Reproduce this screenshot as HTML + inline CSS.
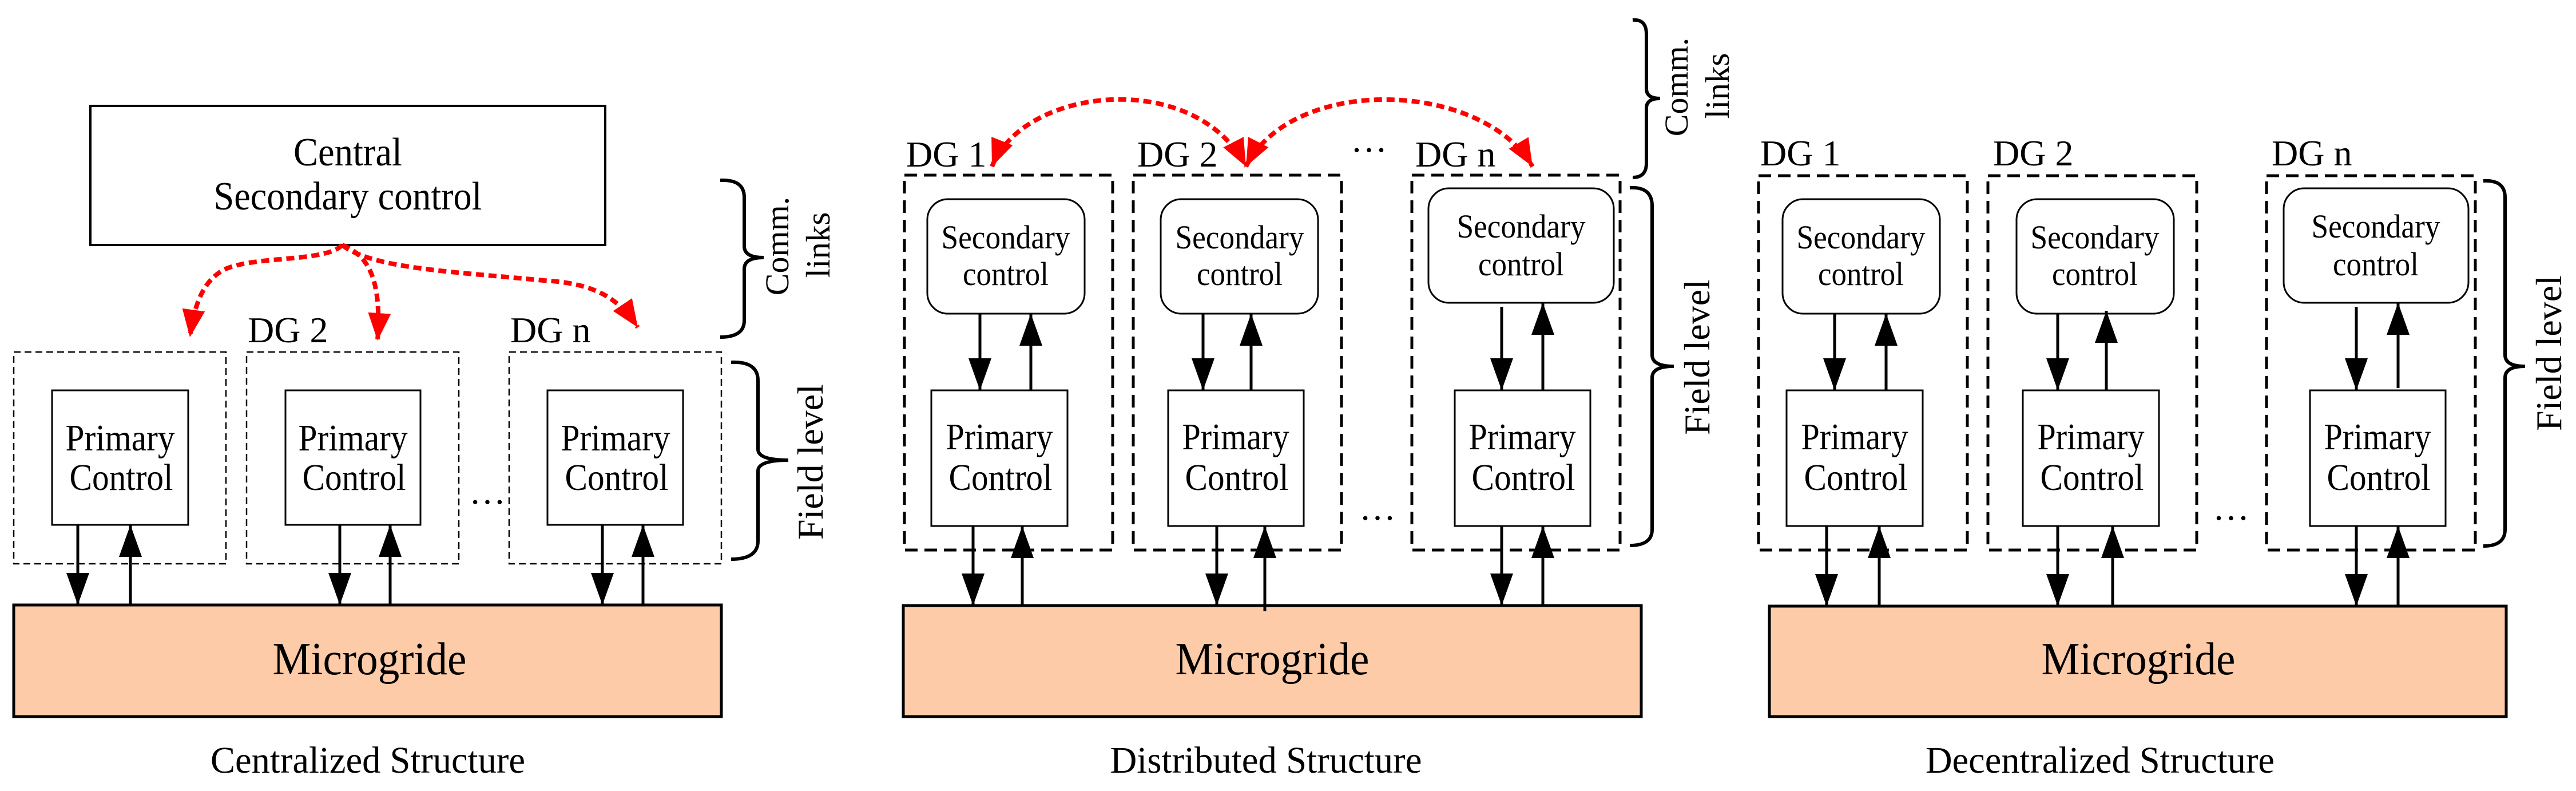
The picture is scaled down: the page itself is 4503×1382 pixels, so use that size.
<!DOCTYPE html>
<html><head><meta charset="utf-8"><style>
html,body{margin:0;padding:0;background:#fff;}
svg{display:block;}
text{font-family:"Liberation Serif",serif;fill:#000;}
</style></head><body>
<svg width="4503" height="1382" viewBox="0 0 4503 1382" xmlns="http://www.w3.org/2000/svg">
<defs>
<marker id="ah" markerUnits="userSpaceOnUse" markerWidth="60" markerHeight="60" viewBox="0 0 60 40" refX="56" refY="20" orient="auto-start-reverse">
<path d="M0 0 L56 20 L0 40 Z" fill="#000"/></marker>
<marker id="rh" markerUnits="userSpaceOnUse" markerWidth="50" markerHeight="50" viewBox="0 0 50 40" refX="48" refY="20" orient="auto-start-reverse">
<path d="M0 0 L48 20 L0 40 Z" fill="#f00"/></marker>
</defs>

<!-- ============ PANEL 1 ============ -->
<rect x="158" y="185" width="900" height="243" fill="#fff" stroke="#000" stroke-width="4"/>
<text x="608" y="289" font-size="70" text-anchor="middle" textLength="190" lengthAdjust="spacingAndGlyphs">Central</text>
<text x="608" y="366" font-size="70" text-anchor="middle" textLength="469" lengthAdjust="spacingAndGlyphs">Secondary control</text>

<g fill="none" stroke="#000" stroke-width="2.5" stroke-dasharray="12 7">
<rect x="24" y="615" width="371" height="370"/>
<rect x="431" y="615" width="371" height="370"/>
<rect x="890" y="615" width="371" height="370"/>
</g>
<g fill="#fff" stroke="#000" stroke-width="3">
<rect x="91" y="682" width="238" height="235"/>
<rect x="499" y="682" width="236" height="235"/>
<rect x="957" y="682" width="237" height="235"/>
</g>
<g font-size="66" text-anchor="middle">
<text x="210" y="787" textLength="191" lengthAdjust="spacingAndGlyphs">Primary</text>
<text x="212" y="856" textLength="181" lengthAdjust="spacingAndGlyphs">Control</text>
<text x="617" y="787" textLength="191" lengthAdjust="spacingAndGlyphs">Primary</text>
<text x="619" y="856" textLength="181" lengthAdjust="spacingAndGlyphs">Control</text>
<text x="1076" y="787" textLength="191" lengthAdjust="spacingAndGlyphs">Primary</text>
<text x="1078" y="856" textLength="181" lengthAdjust="spacingAndGlyphs">Control</text>
</g>
<text x="433" y="598" font-size="64">DG 2</text>
<text x="892" y="598" font-size="64">DG n</text>
<text x="820" y="880" font-size="64">…</text>

<rect x="24" y="1057" width="1237" height="195" fill="#fdcba8" stroke="#000" stroke-width="5"/>
<text x="646" y="1178" font-size="80" text-anchor="middle" textLength="339" lengthAdjust="spacingAndGlyphs">Microgride</text>
<text x="643" y="1350" font-size="66" text-anchor="middle" textLength="550" lengthAdjust="spacingAndGlyphs">Centralized Structure</text>

<g stroke="#000" stroke-width="5" fill="none">
<path d="M136 917 L136 1057" marker-end="url(#ah)"/>
<path d="M228 1057 L228 917" marker-end="url(#ah)"/>
<path d="M594 917 L594 1057" marker-end="url(#ah)"/>
<path d="M682 1057 L682 917" marker-end="url(#ah)"/>
<path d="M1053 917 L1053 1057" marker-end="url(#ah)"/>
<path d="M1124 1057 L1124 917" marker-end="url(#ah)"/>
</g>

<g stroke="#f00" stroke-width="8" fill="none" stroke-dasharray="14 8">
<path d="M598 428 C 570 460, 430 445, 385 475 C 355 495, 340 530, 332 589" marker-end="url(#rh)"/>
<path d="M598 428 C 640 445, 668 480, 660 595" marker-end="url(#rh)"/>
<path d="M598 428 C 650 470, 800 475, 950 490 C 1040 495, 1080 520, 1115 572" marker-end="url(#rh)"/>
</g>

<g stroke="#000" stroke-width="6" fill="none">
<path d="M1259 315 Q1301 313 1301 345 L1301 430 Q1301 450 1335 450 Q1301 450 1301 470 L1301 560 Q1301 589 1259 589"/>
<path d="M1278 633 Q1325 631 1325 665 L1325 785 Q1325 804 1378 804 Q1325 804 1325 823 L1325 945 Q1325 977 1278 977"/>
</g>
<text transform="translate(1378,430) rotate(-90)" font-size="58" text-anchor="middle">Comm.</text>
<text transform="translate(1450,428) rotate(-90)" font-size="59" text-anchor="middle">links</text>
<text transform="translate(1438,807) rotate(-90)" font-size="64" text-anchor="middle">Field level</text>

<!-- ============ PANEL 2 ============ -->
<g fill="none" stroke="#000" stroke-width="5" stroke-dasharray="22 12">
<rect x="1581" y="306" width="364" height="655"/>
<rect x="1981" y="306" width="364" height="655"/>
<rect x="2468" y="306" width="364" height="655"/>
</g>
<g fill="#fff" stroke="#000" stroke-width="3">
<rect x="1621" y="348" width="275" height="200" rx="36"/>
<rect x="2029" y="348" width="275" height="200" rx="36"/>
<rect x="2497" y="329" width="324" height="200" rx="36"/>
<rect x="1628" y="682" width="238" height="237"/>
<rect x="2042" y="682" width="237" height="237"/>
<rect x="2543" y="682" width="237" height="237"/>
</g>
<g font-size="58" text-anchor="middle">
<text x="1758" y="434" textLength="225" lengthAdjust="spacingAndGlyphs">Secondary</text>
<text x="1758" y="498" textLength="150" lengthAdjust="spacingAndGlyphs">control</text>
<text x="2167" y="434" textLength="225" lengthAdjust="spacingAndGlyphs">Secondary</text>
<text x="2167" y="498" textLength="150" lengthAdjust="spacingAndGlyphs">control</text>
<text x="2659" y="415" textLength="225" lengthAdjust="spacingAndGlyphs">Secondary</text>
<text x="2659" y="481" textLength="150" lengthAdjust="spacingAndGlyphs">control</text>
</g>
<g font-size="66" text-anchor="middle">
<text x="1747" y="785" textLength="187" lengthAdjust="spacingAndGlyphs">Primary</text>
<text x="1749" y="856" textLength="181" lengthAdjust="spacingAndGlyphs">Control</text>
<text x="2160" y="785" textLength="187" lengthAdjust="spacingAndGlyphs">Primary</text>
<text x="2162" y="856" textLength="181" lengthAdjust="spacingAndGlyphs">Control</text>
<text x="2661" y="785" textLength="187" lengthAdjust="spacingAndGlyphs">Primary</text>
<text x="2663" y="856" textLength="181" lengthAdjust="spacingAndGlyphs">Control</text>
</g>
<text x="1584" y="291" font-size="64">DG 1</text>
<text x="1988" y="291" font-size="64">DG 2</text>
<text x="2474" y="291" font-size="64">DG n</text>
<text x="2361" y="265" font-size="64">…</text>
<text x="2376" y="908" font-size="64">…</text>

<rect x="1579" y="1058" width="1290" height="194" fill="#fdcba8" stroke="#000" stroke-width="5"/>
<text x="2224" y="1178" font-size="80" text-anchor="middle" textLength="339" lengthAdjust="spacingAndGlyphs">Microgride</text>
<text x="2213" y="1350" font-size="66" text-anchor="middle" textLength="545" lengthAdjust="spacingAndGlyphs">Distributed Structure</text>

<g stroke="#000" stroke-width="5" fill="none">
<path d="M1713 548 L1713 682" marker-end="url(#ah)"/>
<path d="M1802 682 L1802 548" marker-end="url(#ah)"/>
<path d="M2103 548 L2103 682" marker-end="url(#ah)"/>
<path d="M2187 682 L2187 548" marker-end="url(#ah)"/>
<path d="M2625 536 L2625 682" marker-end="url(#ah)"/>
<path d="M2697 682 L2697 529" marker-end="url(#ah)"/>
<path d="M1701 919 L1701 1058" marker-end="url(#ah)"/>
<path d="M1787 1058 L1787 919" marker-end="url(#ah)"/>
<path d="M2127 919 L2127 1058" marker-end="url(#ah)"/>
<path d="M2211 1068 L2211 919" marker-end="url(#ah)"/>
<path d="M2625 919 L2625 1058" marker-end="url(#ah)"/>
<path d="M2697 1058 L2697 919" marker-end="url(#ah)"/>
</g>

<g stroke="#f00" stroke-width="8" fill="none" stroke-dasharray="14 8">
<path d="M1734 291 C 1790 150, 2090 120, 2178 291" marker-start="url(#rh)" marker-end="url(#rh)"/>
<path d="M2178 291 C 2260 130, 2590 140, 2679 291" marker-start="url(#rh)" marker-end="url(#rh)"/>
</g>

<g stroke="#000" stroke-width="6" fill="none">
<path d="M2854 35 Q2878 33 2878 60 L2878 155 Q2878 172 2902 172 Q2878 172 2878 189 L2878 285 Q2878 310 2854 310"/>
<path d="M2849 328 Q2888 326 2888 360 L2888 620 Q2888 640 2926 640 Q2888 640 2888 660 L2888 925 Q2888 953 2849 953"/>
</g>
<text transform="translate(2950,152) rotate(-90)" font-size="58" text-anchor="middle">Comm.</text>
<text transform="translate(3022,150) rotate(-90)" font-size="59" text-anchor="middle">links</text>
<text transform="translate(2988,624) rotate(-90)" font-size="64" text-anchor="middle">Field level</text>

<!-- ============ PANEL 3 ============ -->
<g fill="none" stroke="#000" stroke-width="5" stroke-dasharray="22 12">
<rect x="3074" y="307" width="365" height="654"/>
<rect x="3475" y="307" width="365" height="654"/>
<rect x="3962" y="307" width="365" height="654"/>
</g>
<g fill="#fff" stroke="#000" stroke-width="3">
<rect x="3116" y="348" width="275" height="200" rx="36"/>
<rect x="3525" y="348" width="275" height="200" rx="36"/>
<rect x="3992" y="329" width="323" height="200" rx="36"/>
<rect x="3123" y="682" width="238" height="237"/>
<rect x="3536" y="682" width="238" height="237"/>
<rect x="4038" y="682" width="237" height="237"/>
</g>
<g font-size="58" text-anchor="middle">
<text x="3253" y="434" textLength="225" lengthAdjust="spacingAndGlyphs">Secondary</text>
<text x="3253" y="498" textLength="150" lengthAdjust="spacingAndGlyphs">control</text>
<text x="3662" y="434" textLength="225" lengthAdjust="spacingAndGlyphs">Secondary</text>
<text x="3662" y="498" textLength="150" lengthAdjust="spacingAndGlyphs">control</text>
<text x="4153" y="415" textLength="225" lengthAdjust="spacingAndGlyphs">Secondary</text>
<text x="4153" y="481" textLength="150" lengthAdjust="spacingAndGlyphs">control</text>
</g>
<g font-size="66" text-anchor="middle">
<text x="3242" y="785" textLength="187" lengthAdjust="spacingAndGlyphs">Primary</text>
<text x="3244" y="856" textLength="181" lengthAdjust="spacingAndGlyphs">Control</text>
<text x="3655" y="785" textLength="187" lengthAdjust="spacingAndGlyphs">Primary</text>
<text x="3657" y="856" textLength="181" lengthAdjust="spacingAndGlyphs">Control</text>
<text x="4156" y="785" textLength="187" lengthAdjust="spacingAndGlyphs">Primary</text>
<text x="4158" y="856" textLength="181" lengthAdjust="spacingAndGlyphs">Control</text>
</g>
<text x="3077" y="289" font-size="64">DG 1</text>
<text x="3484" y="289" font-size="64">DG 2</text>
<text x="3971" y="289" font-size="64">DG n</text>
<text x="3868" y="908" font-size="64">…</text>

<rect x="3093" y="1059" width="1288" height="193" fill="#fdcba8" stroke="#000" stroke-width="5"/>
<text x="3738" y="1178" font-size="80" text-anchor="middle" textLength="339" lengthAdjust="spacingAndGlyphs">Microgride</text>
<text x="3671" y="1350" font-size="66" text-anchor="middle" textLength="610" lengthAdjust="spacingAndGlyphs">Decentralized Structure</text>

<g stroke="#000" stroke-width="5" fill="none">
<path d="M3207 548 L3207 682" marker-end="url(#ah)"/>
<path d="M3297 682 L3297 548" marker-end="url(#ah)"/>
<path d="M3597 548 L3597 682" marker-end="url(#ah)"/>
<path d="M3682 682 L3682 543" marker-end="url(#ah)"/>
<path d="M4119 536 L4119 682" marker-end="url(#ah)"/>
<path d="M4192 678 L4192 529" marker-end="url(#ah)"/>
<path d="M3193 919 L3193 1059" marker-end="url(#ah)"/>
<path d="M3285 1059 L3285 919" marker-end="url(#ah)"/>
<path d="M3597 919 L3597 1059" marker-end="url(#ah)"/>
<path d="M3693 1059 L3693 919" marker-end="url(#ah)"/>
<path d="M4119 919 L4119 1059" marker-end="url(#ah)"/>
<path d="M4192 1059 L4192 919" marker-end="url(#ah)"/>
</g>

<g stroke="#000" stroke-width="6" fill="none">
<path d="M4341 316 Q4379 314 4379 345 L4379 620 Q4379 640 4414 640 Q4379 640 4379 660 L4379 925 Q4379 954 4341 954"/>
</g>
<text transform="translate(4477,617) rotate(-90)" font-size="64" text-anchor="middle">Field level</text>
</svg>
</body></html>
